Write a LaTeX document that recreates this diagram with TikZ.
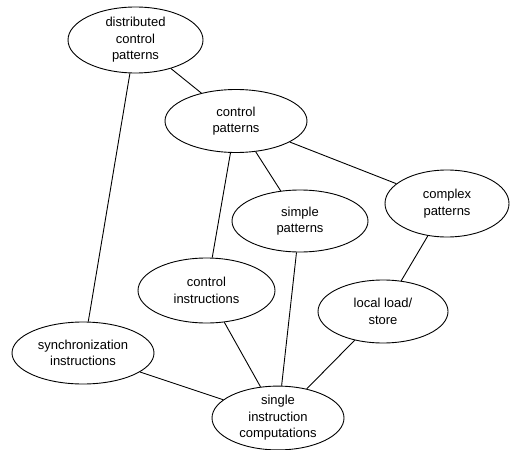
\documentclass[tikz,border=0pt]{standalone}
\usepackage{fontspec}
\setmainfont{Liberation Sans}
\usetikzlibrary{shapes.geometric}
\tikzset{
  topic/.style={ellipse, draw, line width=0.9pt, inner sep=0pt, align=center,
    font=\fontsize{13}{16.5}\selectfont},
  link/.style={line width=0.9pt}
}
\begin{document}
\begin{tikzpicture}[x=1pt, y=-1pt]
  \useasboundingbox (0,0) rectangle (510,449);
  \node[topic, minimum width=135pt, minimum height=66pt] (dcp) at (135.5,40) {distributed\\control\\patterns};
  \node[topic, minimum width=142pt, minimum height=63pt] (cp) at (236,121) {control\\patterns};
  \node[topic, minimum width=136pt, minimum height=62pt] (sp) at (300,221) {simple\\patterns};
  \node[topic, minimum width=124pt, minimum height=67pt] (xp) at (447,203.5) {complex\\patterns};
  \node[topic, minimum width=137pt, minimum height=65pt] (ci) at (206.5,290.5) {control\\instructions};
  \node[topic, minimum width=130pt, minimum height=63pt] (ls) at (383,311.5) {local load/\\store};
  \node[topic, minimum width=142pt, minimum height=62pt] (si) at (83,353) {synchronization\\instructions};
  \node[topic, minimum width=132pt, minimum height=60pt] (sic) at (278,418) {single\\instruction\\computations};
  \draw[link] (dcp) -- (cp);
  \draw[link] (dcp) -- (si);
  \draw[link] (cp) -- (ci);
  \draw[link] (cp) -- (sp);
  \draw[link] (cp) -- (xp);
  \draw[link] (xp) -- (ls);
  \draw[link] (sp) -- (sic);
  \draw[link] (ci) -- (sic);
  \draw[link] (ls) -- (sic);
  \draw[link] (si) -- (sic);
\end{tikzpicture}
\end{document}
